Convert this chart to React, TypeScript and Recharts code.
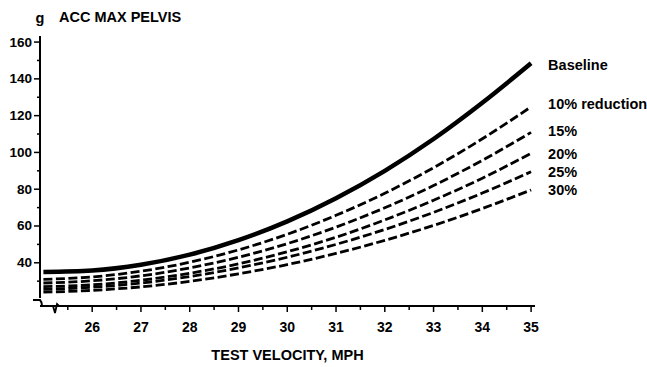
import React from 'react';
import { LineChart, Line, XAxis, YAxis, LabelList, Label, ReferenceLine } from 'recharts';

// Test velocity (mph)
const velocities = [25, 26, 27, 28, 29, 30, 31, 32, 33, 34, 35];
// ACC max pelvis (g)
const baseline = [35, 35.8, 38.9, 44.4, 52.3, 62.5, 75.1, 90.0, 107.3, 127.0, 148.5];
const reduction10 = [31, 32.3, 35.4, 40.3, 47.0, 55.5, 65.8, 77.8, 91.7, 107.4, 124.8];
const reduction15 = [29, 30.2, 32.9, 37.2, 43.0, 50.4, 59.4, 69.9, 82.0, 95.7, 110.9];
const reduction20 = [27, 28.0, 30.5, 34.3, 39.4, 46.0, 53.9, 63.3, 74.0, 86.0, 99.5];
const reduction25 = [25.5, 26.7, 29.0, 32.5, 37.2, 43.0, 50.0, 58.1, 67.4, 77.9, 89.5];
const reduction30 = [24, 25.0, 26.9, 29.9, 34.0, 39.0, 45.1, 52.2, 60.3, 69.5, 79.6];

const seriesKeys = ['baseline', 'r10', 'r15', 'r20', 'r25', 'r30'];
const seriesLabels = ['Baseline', '10% reduction', '15%', '20%', '25%', '30%'];
const labelShift = [2, -3, -1, 1, 0, 0];

const xTicks = [25.5, 26, 26.5, 27, 27.5, 28, 28.5, 29, 29.5, 30, 30.5, 31, 31.5, 32, 32.5, 33, 33.5, 34, 34.5, 35];
const yTicks = [30, 40, 50, 60, 70, 80, 90, 100, 110, 120, 130, 140, 150, 160];
const yLabelTicks = [40, 60, 80, 100, 120, 140, 160];

const xDomain = [24.93, 35.08];
const yDomain = [16.5, 163.3];

const yAxisTitle = 'ACC MAX PELVIS';
const yUnit = 'g';
const xAxisTitle = 'TEST VELOCITY, MPH';

const data = velocities.map((v, i) => ({
  v,
  baseline: baseline[i],
  r10: reduction10[i],
  r15: reduction15[i],
  r20: reduction20[i],
  r25: reduction25[i],
  r30: reduction30[i],
}));

const FONT = '"Liberation Sans", Arial, Helvetica, sans-serif';

const YTick = (props: any) => {
  const { x, y, payload } = props;
  const ax = x + 8;
  const v = payload.value;
  const major = yLabelTicks.includes(v);
  return (
    <g>
      <line x1={ax - (major ? 6 : 3)} x2={ax} y1={y} y2={y} stroke="#000" strokeWidth={1.5} />
      {major && (
        <text x={x} y={y} textAnchor="end" dominantBaseline="central" fontFamily={FONT} fontWeight="bold" fontSize={13.5} fill="#000">
          {v}
        </text>
      )}
    </g>
  );
};

const XTick = (props: any) => {
  const { x, y, payload } = props;
  const ay = y - 14;
  const v = payload.value;
  const major = Number.isInteger(v);
  return (
    <g>
      <line x1={x} x2={x} y1={ay} y2={ay + (major ? 6 : 4)} stroke="#000" strokeWidth={1.5} />
      {major && (
        <text x={x} y={ay + 21} textAnchor="middle" dominantBaseline="central" fontFamily={FONT} fontWeight="bold" fontSize={14} fill="#000">
          {v}
        </text>
      )}
    </g>
  );
};

const endLabel = (idx: number) => (props: any) => {
  if (props.index !== velocities.length - 1) return null;
  return (
    <text
      x={props.x + 17}
      y={props.y + labelShift[idx]}
      dominantBaseline="central"
      fontFamily={FONT}
      fontWeight="bold"
      fontSize={14.5}
      fill="#000"
    >
      {seriesLabels[idx]}
    </text>
  );
};

export default function App() {
  return (
    <div style={{ position: 'absolute', left: 0, top: 0, width: 647, height: 367, background: '#fff' }}>
      <LineChart
        width={647}
        height={367}
        data={data}
        margin={{ top: 36, right: 112, bottom: 0, left: 0 }}
      >
        <XAxis
          dataKey="v"
          type="number"
          domain={xDomain}
          ticks={xTicks}
          interval={0}
          allowDataOverflow
          height={61}
          tickSize={6}
          tickMargin={8}
          tickLine={false}
          tick={<XTick />}
          axisLine={{ stroke: '#000', strokeWidth: 2 }}
        >
          <Label
            content={(p: any) => {
              const vb = p.viewBox;
              return (
                <text
                  x={vb.x + vb.width / 2}
                  y={vb.y + 54}
                  textAnchor="middle"
                  fontFamily={FONT}
                  fontWeight="bold"
                  fontSize={14.5}
                  fill="#000"
                >
                  {xAxisTitle}
                </text>
              );
            }}
          />
        </XAxis>
        <YAxis
          type="number"
          domain={yDomain}
          ticks={yTicks}
          interval={0}
          allowDataOverflow
          width={40}
          tickSize={6}
          tickMargin={2}
          tickLine={false}
          tick={<YTick />}
          axisLine={false}
        >
          <Label
            content={(p: any) => {
              const vb = p.viewBox;
              const ax = vb.x + vb.width;
              return (
                <g>
                  <text x={ax} y={vb.y - 13} textAnchor="middle" fontFamily={FONT} fontWeight="bold" fontSize={14.5} fill="#000">
                    {yUnit}
                  </text>
                  <text x={ax + 19} y={vb.y - 14} fontFamily={FONT} fontWeight="bold" fontSize={14.5} fill="#000">
                    {yAxisTitle}
                  </text>
                </g>
              );
            }}
          />
        </YAxis>
        <ReferenceLine
          segment={[{ x: xDomain[0], y: 20.8 }, { x: xDomain[0], y: yDomain[1] }]}
          stroke="#000"
          strokeWidth={2}
          ifOverflow="visible"
        />
        {seriesKeys.map((k, i) => (
          <Line
            key={k}
            dataKey={k}
            type="monotone"
            stroke="#000"
            strokeWidth={i === 0 ? 4.5 : 2.8}
            strokeDasharray={i === 0 ? undefined : '9 3.5'}
            dot={false}
            activeDot={false}
            isAnimationActive={false}
          >
            <LabelList dataKey={k} content={endLabel(i)} />
          </Line>
        ))}
      </LineChart>
      <svg
        width={647}
        height={367}
        style={{ position: 'absolute', left: 0, top: 0, pointerEvents: 'none' }}
      >
        <path d="M33,300 L40,300 Q42,302 42,306" fill="none" stroke="#000" strokeWidth={2} />
        <path d="M50,306 L53,306 L55,313 L57,304 L59,306" fill="none" stroke="#000" strokeWidth={1.8} />
      </svg>
    </div>
  );
}
